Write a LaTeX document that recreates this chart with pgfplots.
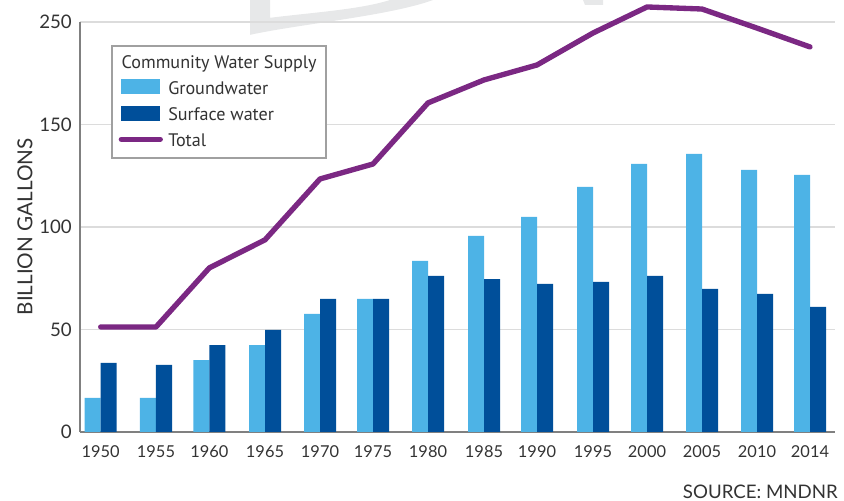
\documentclass[border=0pt]{standalone}
\usepackage{fontspec}
\setmainfont{Lato}
\newfontfamily\legfont{PT Sans}
\usepackage{pgfplots}
\pgfplotsset{compat=1.18}
\definecolor{gw}{HTML}{4DB3E6}
\definecolor{sw}{HTML}{004F9A}
\definecolor{tot}{HTML}{7B2883}
\definecolor{txt}{HTML}{333333}
\definecolor{wm}{HTML}{E7E8E9}
\definecolor{gridc}{HTML}{DCDCDC}
\definecolor{axc}{HTML}{808080}
\definecolor{legc}{HTML}{A0A0A0}

\pgfplotstableread{
x     gw     sw     tot
100.7 16.6   33.7   51.2
156   16.6   32.7   51.2
209.3 35.0   42.4   80.0
265   42.4   49.8   93.7
320   57.6   64.9   123.4
373   64.9   64.9   130.7
428   83.4   76.1   160.5
484   95.6   74.6   171.7
537   104.9  72.2   179.0
593   119.5  73.2   194.6
647   130.7  76.1   207.3
702   135.6  69.8   206.3
757   127.8  67.3   197.0
810   125.4  61.0   187.8
}\datatable

\begin{document}
\begin{tikzpicture}
\begin{axis}[
  set layers,
  scale only axis, width=566.25pt, height=307.5pt,
  xmin=80, xmax=835, ymin=0, ymax=200,
  clip=false,
  axis x line*=bottom, axis y line*=left,
  axis line style={-, draw=axc, line width=2pt},
  xtick={100.7,156,209.3,265,320,373,428,484,537,593,647,702,757,810},
  xticklabels={1950,1955,1960,1965,1970,1975,1980,1985,1990,1995,2000,2005,2010,2014},
  ytick={0,50,100,150,200}, yticklabels={0,50,100,150,250},
  major tick length=0pt,
  ymajorgrids, grid style={draw=gridc, line width=1.1pt},
  /pgf/number format/assume math mode=true,
  xticklabel style={font=\fontsize{12.3}{14}\selectfont, text=txt, inner sep=0pt, anchor=north, yshift=-10pt},
  yticklabel style={font=\fontsize{14}{16}\selectfont, text=txt, inner sep=0pt, anchor=east, xshift=-6pt},
  ylabel={BILLION GALLONS},
  ylabel style={at={(axis description cs:-0.0728,0.5)}, anchor=center, font=\fontsize{15.5}{17}\selectfont, text=txt},
  legend cell align=left,
  legend style={at={(axis cs:111,188.8)}, anchor=north west, draw=legc, line width=1.5pt, fill=white,
    font=\legfont\fontsize{13.6}{15}\selectfont, text=txt, inner xsep=5pt, inner ysep=5pt, row sep=4.5pt,
    /tikz/every odd column/.append style={column sep=2pt}},
]
\begin{pgfonlayer}{axis background}
\fill[wm] (axis cs:250,210.7) -- (axis cs:250,193.7) .. controls (axis cs:300,199) and (axis cs:390,203) .. (axis cs:433,210.7) -- (axis cs:390,210.7) .. controls (axis cs:360,206) and (axis cs:310,204.5) .. (axis cs:270,202) -- (axis cs:270,210.7) -- cycle;
\fill[wm] (axis cs:583,210.7) -- (axis cs:585,208.3) -- (axis cs:603,208.3) -- (axis cs:603,210.7) -- cycle;
\end{pgfonlayer}
\path (axis cs:0,-33.66) rectangle (axis cs:844,210.7);

\addlegendimage{empty legend}
\addlegendentry{\hspace*{-35pt}Community Water Supply}

\addplot[ybar, bar width=16, bar shift=-8, fill=gw, draw=none,
  legend image code/.code={\fill[gw] (0pt,-4pt) rectangle (29pt,7.25pt);}]
  table[x=x, y=gw] {\datatable};
\addlegendentry{Groundwater}

\addplot[ybar, bar width=16, bar shift=8, fill=sw, draw=none,
  legend image code/.code={\fill[sw] (0pt,-4pt) rectangle (29pt,7.25pt);}]
  table[x=x, y=sw] {\datatable};
\addlegendentry{Surface water}

\addplot[tot, line width=4pt, line join=round, line cap=round, mark=none,
  legend image code/.code={\draw[tot, line width=4.2pt] (0pt,1.5pt) -- (29pt,1.5pt);}]
  table[x=x, y=tot] {\datatable};
\addlegendentry{Total}

\node[anchor=east, font=\fontsize{14}{16}\selectfont, text=txt, inner sep=0pt] at (axis cs:838,-29.3) {SOURCE: MNDNR};
\end{axis}
\end{tikzpicture}
\end{document}
